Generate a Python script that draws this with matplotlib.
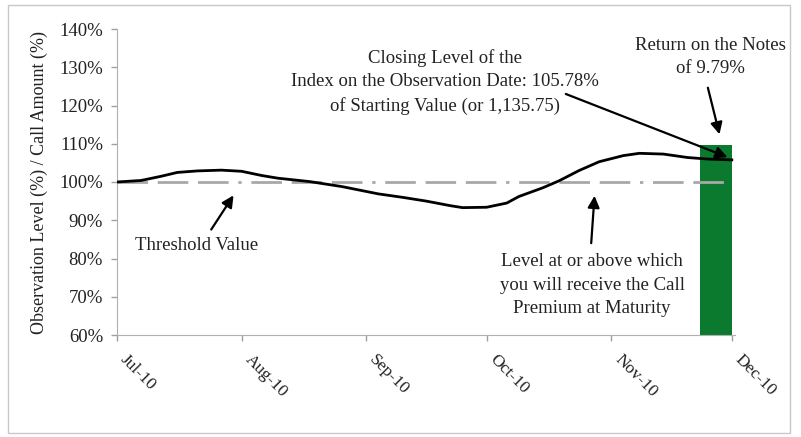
import matplotlib
matplotlib.use("Agg")
import matplotlib.pyplot as plt
import matplotlib.dates as mdates
import pandas as pd
from matplotlib.patches import Rectangle

# ---- data ----
dates = ["2010-07-01", "2010-07-07", "2010-07-12", "2010-07-16", "2010-07-21",
         "2010-07-27", "2010-08-01", "2010-08-06", "2010-08-10", "2010-08-18",
         "2010-08-26", "2010-09-04", "2010-09-10", "2010-09-16", "2010-09-22",
         "2010-09-25", "2010-10-01", "2010-10-06", "2010-10-09", "2010-10-15",
         "2010-10-19", "2010-10-24", "2010-10-29", "2010-11-04", "2010-11-08",
         "2010-11-14", "2010-11-20", "2010-11-25", "2010-12-01"]
levels = [100.0, 100.4, 101.5, 102.5, 102.9, 103.1, 102.8, 101.7, 101.0, 100.1,
          98.8, 96.9, 96.0, 95.0, 93.8, 93.3, 93.4, 94.5, 96.2, 98.5,
          100.3, 103.0, 105.3, 106.9, 107.5, 107.3, 106.4, 106.0, 105.78]
threshold = 100.0
bar_date = "2010-11-27"
bar_days = 8
bar_value = 109.79
tick_dates = ["2010-07-01", "2010-08-01", "2010-09-01", "2010-10-01", "2010-11-01", "2010-12-01"]
tick_labels = ["Jul-10", "Aug-10", "Sep-10", "Oct-10", "Nov-10", "Dec-10"]
yticks = [60, 70, 80, 90, 100, 110, 120, 130, 140]

x = mdates.date2num(pd.to_datetime(dates))
xt = mdates.date2num(pd.to_datetime(tick_dates))
xb = mdates.date2num(pd.to_datetime(bar_date))

plt.rcParams['font.family'] = ['Liberation Serif', 'DejaVu Serif']

fig = plt.figure(figsize=(8.01, 4.37), dpi=100)
fig.patches.append(Rectangle((8/801, 1-433/437), (790-8)/801, (433-5)/437,
                             transform=fig.transFigure, fill=False,
                             edgecolor='#c8c8c8', lw=1.0))
ax = fig.add_axes([117/801, 1-335/437, (735-117)/801, (335-29)/437])

ax.bar(xb, bar_value - 60, bottom=60, width=bar_days, color='#0b7a2e', zorder=1)
ax.plot([x[0], x[-1]], [threshold, threshold], color='#a8a8a8', lw=2,
        linestyle=(0, (11, 3.5, 11, 3.5, 11, 3.5, 1.2, 3.5)), zorder=2)
ax.plot(x, levels, color='black', lw=2, zorder=3)

ax.set_ylim(60, 140)
ax.set_xlim(xt[0], xt[-1] + 0.8)
ax.set_yticks(yticks)
ax.set_yticklabels([f"{v}%" for v in yticks], fontsize=13.5)
ax.set_xticks(xt)
ax.set_xticklabels(tick_labels, fontsize=12.5, rotation=-45, ha='left', va='top')
ax.tick_params(axis='both', colors='#a0a0a0', length=4, width=1, labelcolor='#222222')
ax.tick_params(axis='x', pad=8)
ax.tick_params(axis='y', pad=6)
for s in ['top', 'right']:
    ax.spines[s].set_visible(False)
for s in ['left', 'bottom']:
    ax.spines[s].set_color('#b0b0b0')
ax.set_ylabel("Observation Level (%) / Call Amount (%)", fontsize=13, color='#222222', labelpad=8)

tkw = dict(transform=ax.transAxes, fontsize=13.5, color='#222222', ha='center', va='center',
           linespacing=1.5)
akw = dict(arrowstyle='-|>,head_length=0.7,head_width=0.35', color='black', lw=1.6)

ax.text(0.531, 0.827, "Closing Level of the\nIndex on the Observation Date: 105.78%\nof Starting Value (or 1,135.75)", **tkw)
ax.annotate('', xy=(0.992, 0.578), xytext=(0.722, 0.791), xycoords='axes fraction', arrowprops=akw)

ax.text(0.960, 0.908, "Return on the Notes\nof 9.79%", **tkw)
ax.annotate('', xy=(0.976, 0.647), xytext=(0.955, 0.817), xycoords='axes fraction', arrowprops=akw)

ax.text(0.128, 0.294, "Threshold Value", **tkw)
ax.annotate('', xy=(0.191, 0.464), xytext=(0.150, 0.337), xycoords='axes fraction', arrowprops=akw)

ax.text(0.769, 0.163, "Level at or above which\nyou will receive the Call\nPremium at Maturity", **tkw)
ax.annotate('', xy=(0.773, 0.464), xytext=(0.767, 0.291), xycoords='axes fraction', arrowprops=akw)

fig.savefig("out.png", dpi=100)
